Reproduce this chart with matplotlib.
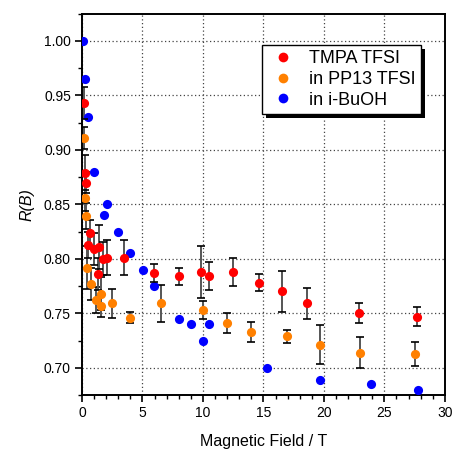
import matplotlib
matplotlib.use("Agg")
import matplotlib.pyplot as plt
from matplotlib.patches import Rectangle
from matplotlib.lines import Line2D
from matplotlib.transforms import IdentityTransform
from matplotlib.ticker import MultipleLocator, FormatStrFormatter

plt.rcParams['font.family'] = ['Liberation Sans', 'DejaVu Sans']

# TMPA TFSI (red)
red_x = [0.2, 0.25, 0.33, 0.47, 0.66, 0.99, 1.29, 1.43, 1.76, 2.04, 3.49, 5.93, 8.0, 9.8, 10.5, 12.5, 14.6, 16.5, 18.6, 22.9, 27.7]
red_y = [0.943, 0.879, 0.870, 0.813, 0.824, 0.809, 0.786, 0.811, 0.800, 0.801, 0.801, 0.787, 0.784, 0.788, 0.784, 0.788, 0.778, 0.770, 0.759, 0.750, 0.747]
red_e = [0.015, 0.016, 0.010, 0.012, 0.012, 0.015, 0.015, 0.020, 0.015, 0.016, 0.016, 0.008, 0.008, 0.024, 0.013, 0.013, 0.008, 0.019, 0.014, 0.009, 0.009]

# in PP13 TFSI (orange)
org_x = [0.19, 0.25, 0.33, 0.44, 0.74, 1.16, 1.57, 1.57, 2.5, 3.99, 6.5, 9.97, 12.0, 13.98, 16.98, 19.71, 22.98, 27.52]
org_y = [0.911, 0.856, 0.839, 0.792, 0.777, 0.762, 0.768, 0.757, 0.759, 0.746, 0.759, 0.753, 0.741, 0.733, 0.729, 0.721, 0.714, 0.713]
org_e = [0.010, 0.012, 0.012, 0.020, 0.015, 0.012, 0.015, 0.010, 0.013, 0.005, 0.017, 0.008, 0.009, 0.009, 0.006, 0.018, 0.014, 0.011]

# in i-BuOH (blue)
blu_x = [0.1, 0.25, 0.47, 1.02, 1.82, 2.04, 2.97, 3.99, 5.01, 5.97, 8.0, 9.0, 9.97, 10.5, 15.3, 19.7, 23.9, 27.8]
blu_y = [1.000, 0.965, 0.930, 0.880, 0.840, 0.850, 0.825, 0.805, 0.790, 0.775, 0.745, 0.740, 0.725, 0.740, 0.700, 0.689, 0.685, 0.6795]

labels = ["TMPA TFSI", "in PP13 TFSI", "in i-BuOH"]
colors = ["#FF0000", "#FF8000", "#0000FF"]

MS = 6.6

fig = plt.figure(figsize=(4.53, 4.51), dpi=100)
ax = fig.add_axes([0.181, 0.1242, 0.801, 0.8454])

def eb(x, y, e, c, z):
    line, caps, bars = ax.errorbar(x, y, yerr=e, fmt='o', color=c, markersize=MS,
                                   markeredgewidth=0, ecolor='#555555', elinewidth=1.4,
                                   capsize=2.8, zorder=z)
    for cl in caps:
        cl.set_markeredgecolor('black')
        cl.set_markeredgewidth(1.2)
        cl.set_markersize(5.6)
        cl.set_zorder(z - 0.4)
    for b in bars:
        b.set_zorder(z - 0.5)
    line.set_zorder(z + 1)

eb(red_x, red_y, red_e, colors[0], 4)
eb(org_x, org_y, org_e, colors[1], 3)
ax.plot(blu_x, blu_y, 'o', color=colors[2], markersize=MS, markeredgewidth=0, zorder=3.5)

ax.set_xlim(0, 30)
ax.set_ylim(0.675, 1.025)
ax.xaxis.set_major_locator(MultipleLocator(5))
ax.xaxis.set_minor_locator(MultipleLocator(1))
ax.yaxis.set_major_locator(MultipleLocator(0.05))
ax.yaxis.set_minor_locator(MultipleLocator(0.025))
ax.yaxis.set_major_formatter(FormatStrFormatter('%.2f'))
ax.tick_params(which='major', direction='out', length=5, width=1.2, labelsize=10, pad=3)
ax.tick_params(which='minor', direction='out', length=3, width=1.0)
for s in ax.spines.values():
    s.set_linewidth(1.4)
ax.grid(True, which='major', color='#444444', linestyle=(0, (1, 2)), linewidth=0.9)
ax.set_axisbelow(True)

ax.set_xlabel("Magnetic Field / T", fontsize=11.5, labelpad=10)
ax.set_ylabel("R(B)", fontsize=11.5, style='italic', labelpad=7)

handles = [Line2D([], [], linestyle='none', marker='o', markersize=7, markeredgewidth=0, color=c)
           for c in colors]
leg = ax.legend(handles, labels, loc='upper left', bbox_to_anchor=(0.496, 0.918), borderaxespad=0,
                fontsize=13, frameon=True, fancybox=False, framealpha=1, edgecolor='black',
                handlelength=1.7, handletextpad=0.58, labelspacing=0.2, borderpad=0.3)
leg.get_frame().set_linewidth(1.0)
leg.set_zorder(10)

fig.canvas.draw()
bb = leg.get_window_extent()
shadow = Rectangle((bb.x0 + 4, bb.y0 - 4), bb.width, bb.height, transform=IdentityTransform(),
                   facecolor='black', edgecolor='none', zorder=9.9, clip_on=False)
ax.add_patch(shadow)

fig.savefig("out.png", dpi=100)
